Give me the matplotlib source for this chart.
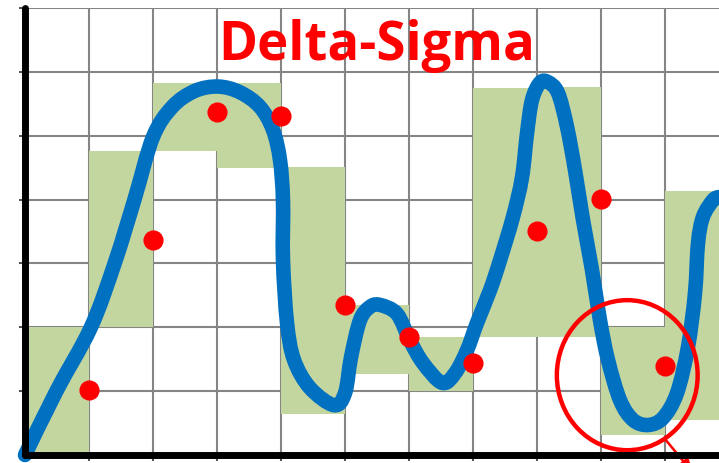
import numpy as np
import matplotlib.pyplot as plt
from matplotlib.patches import Ellipse, PathPatch
from matplotlib.path import Path

# sample points (red dots)
sample_x = [1, 2, 3, 4, 5, 6, 7, 8, 9, 10]
sample_y = [1.02, 3.37, 5.37, 5.31, 2.35, 1.85, 1.44, 3.51, 4.01, 1.39]

# green steps: left edge, low, high
step_x = [0, 1, 2, 3, 4, 5, 6, 7, 8, 9, 10]
step_lo = [0.0, 2.0, 4.76, 4.49, 0.64, 1.27, 1.0, 1.85, 1.85, 0.31, 0.55]
step_hi = [2.0, 4.76, 5.83, 5.83, 4.51, 2.35, 1.85, 5.75, 5.77, 2.0, 4.13]

# blue signal
sig_x = [0, 0.49, 1.03, 1.40, 1.71, 2.0, 2.3, 2.65, 3.016, 3.359, 3.672,
         3.875, 3.984, 4.031, 4.031, 4.094, 4.203,
         4.453, 4.828, 5.0, 5.094, 5.234, 5.391, 5.547, 5.813, 6.016, 6.219,
         6.516, 6.719, 6.906, 7.063, 7.266, 7.422, 7.625, 7.766, 7.844, 7.922,
         8.047, 8.172, 8.328, 8.469, 8.594, 8.719, 8.859, 8.984, 9.109, 9.297,
         9.5, 9.734, 9.969, 10.1875, 10.359, 10.469, 10.516, 10.594, 10.75, 10.84]
sig_y = [0, 1.0, 2.0, 3.0, 4.0, 4.98, 5.45, 5.70, 5.77, 5.68, 5.45,
         5.09, 4.62, 3.99, 3.05, 2.07, 1.49,
         1.05, 0.78, 0.97, 1.53, 2.11, 2.32, 2.35, 2.21, 1.79, 1.44,
         1.13, 1.28, 1.64, 2.07, 2.58, 3.05, 3.73, 4.35, 5.04, 5.56,
         5.83, 5.84, 5.67, 5.14, 4.46, 3.68, 2.90, 2.11, 1.49, 0.86,
         0.55, 0.47, 0.58, 0.97, 1.69, 2.54, 3.32, 3.73, 3.99, 4.04]


def smooth_path(xs, ys):
    # Bezier path through every point (Catmull-Rom tangents), like a smoothed line
    p = np.column_stack([xs, ys])
    n = len(p)
    verts = [p[0]]
    codes = [Path.MOVETO]
    for i in range(n - 1):
        p0 = p[i - 1] if i > 0 else p[i]
        p3 = p[i + 2] if i + 2 < n else p[i + 1]
        c1 = p[i] + (p[i + 1] - p0) / 6
        c2 = p[i + 1] - (p3 - p[i]) / 6
        verts += [c1, c2, p[i + 1]]
        codes += [Path.CURVE4] * 3
    return Path(verts, codes)


fig = plt.figure(figsize=(7.19, 4.63), dpi=100)
ax = fig.add_axes([25/719, 8/463, 694/719, 447/463])
ax.set_xlim(0, 694/64)
ax.set_ylim(0, 7.0)

ax.set_axisbelow(True)
ax.grid(True, color='#858585', lw=1.5)
ax.set_xticks(range(0, 11))
ax.set_yticks(range(0, 8))
ax.set_xticklabels([])
ax.set_yticklabels([])
ax.tick_params(length=4, width=1.5, color='#555555', direction='out')

heights = np.array(step_hi) - np.array(step_lo)
ax.bar(step_x, heights, bottom=step_lo, width=1, align='edge',
       color='#c4d6a0', zorder=1)

sig = PathPatch(smooth_path(sig_x, sig_y), fill=False, ec='#0070c0', lw=10.5,
                capstyle='round', joinstyle='round', clip_on=False, zorder=2)
ax.add_patch(sig)
ax.plot(sample_x, sample_y, 'o', color='#ff0000', ms=13.5, zorder=3)

circ = Ellipse((9.41, 1.25), 2.2, 2.35, fill=False, ec='#ff0000', lw=3.2,
               zorder=4, clip_on=False)
ax.add_patch(circ)
ax.annotate('', xy=(10.42, -0.26), xytext=(10.0, 0.25),
            arrowprops=dict(arrowstyle='-|>', color='#ff0000', lw=1.8,
                            mutation_scale=18, shrinkA=0, shrinkB=0),
            annotation_clip=False, zorder=4)

for s in ['top', 'right']:
    ax.spines[s].set_visible(False)
for s in ['left', 'bottom']:
    ax.spines[s].set_linewidth(5)
    ax.spines[s].set_color('black')
    ax.spines[s].set_capstyle('round')
    ax.spines[s].set_zorder(5)

fig.text(377/719, 1 - 60/463, 'Delta-Sigma', color='#ff0000', fontsize=38,
         fontweight='bold', family='Open Sans', ha='center', va='baseline')

plt.savefig('out.png', dpi=100)
